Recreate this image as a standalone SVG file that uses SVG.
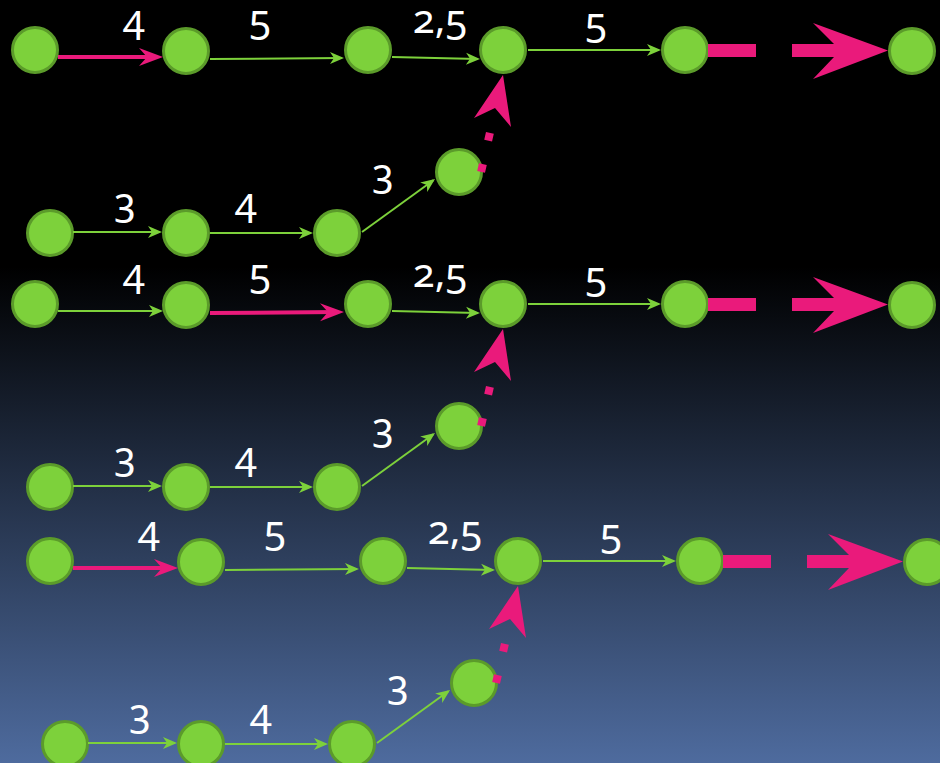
<svg xmlns="http://www.w3.org/2000/svg" width="940" height="763" viewBox="0 0 940 763">
<defs>
<linearGradient id="bg" x1="0" y1="0" x2="0" y2="763" gradientUnits="userSpaceOnUse">
<stop offset="0" stop-color="#000000"/>
<stop offset="0.35" stop-color="#000000"/>
<stop offset="1" stop-color="#4e6b9e"/>
</linearGradient>
<marker id="ag" markerUnits="userSpaceOnUse" markerWidth="14" markerHeight="12" refX="12" refY="6" orient="auto" overflow="visible">
<path d="M0,0 L14,6 L0,12 L4,6 z" fill="#7dd13b"/>
</marker>
<marker id="ap" markerUnits="userSpaceOnUse" markerWidth="24" markerHeight="18" refX="18" refY="9" orient="auto" overflow="visible">
<path d="M0,0 L24,9 L0,18 L8,9 z" fill="#ea1a7b"/>
</marker>
<style>
.n{fill:#7dd13b;stroke:#5b9b2a;stroke-width:3}
.g{stroke:#7dd13b;stroke-width:2;fill:none;marker-end:url(#ag)}
.p{stroke:#ea1a7b;stroke-width:4;fill:none;marker-end:url(#ap)}
.pf{fill:#ea1a7b}
.d{stroke:#ea1a7b;stroke-width:8;stroke-dasharray:8 24;fill:none}
.t{font-family:"Noto Sans","DejaVu Sans",sans-serif;font-size:40px;fill:#ffffff;text-anchor:middle;font-variant-numeric:oldstyle-nums;font-feature-settings:"onum"}
</style>
</defs>
<rect x="0" y="0" width="940" height="763" fill="url(#bg)"/>

<g id="nodes">
<g transform="translate(0,0)">
<g id="g1-a1"><circle class="n" cx="35" cy="50" r="22.5"/></g>
<g id="g1-a2"><circle class="n" cx="186" cy="51" r="22.5"/></g>
<g id="g1-a3"><circle class="n" cx="368" cy="50" r="22.5"/></g>
<g id="g1-a4"><circle class="n" cx="503" cy="50" r="22.5"/></g>
<g id="g1-a5"><circle class="n" cx="685" cy="50" r="22.5"/></g>
<g id="g1-a6"><circle class="n" cx="912" cy="51" r="22.5"/></g>
<g id="g1-b1"><circle class="n" cx="50" cy="233" r="22.5"/></g>
<g id="g1-b2"><circle class="n" cx="186" cy="233" r="22.5"/></g>
<g id="g1-b3"><circle class="n" cx="337" cy="233" r="22.5"/></g>
<g id="g1-b4"><circle class="n" cx="459" cy="172" r="22.5"/></g>
</g>
<g transform="translate(0,254)">
<g id="g2-a1"><circle class="n" cx="35" cy="50" r="22.5"/></g>
<g id="g2-a2"><circle class="n" cx="186" cy="51" r="22.5"/></g>
<g id="g2-a3"><circle class="n" cx="368" cy="50" r="22.5"/></g>
<g id="g2-a4"><circle class="n" cx="503" cy="50" r="22.5"/></g>
<g id="g2-a5"><circle class="n" cx="685" cy="50" r="22.5"/></g>
<g id="g2-a6"><circle class="n" cx="912" cy="51" r="22.5"/></g>
<g id="g2-b1"><circle class="n" cx="50" cy="233" r="22.5"/></g>
<g id="g2-b2"><circle class="n" cx="186" cy="233" r="22.5"/></g>
<g id="g2-b3"><circle class="n" cx="337" cy="233" r="22.5"/></g>
<g id="g2-b4"><circle class="n" cx="459" cy="172" r="22.5"/></g>
</g>
<g transform="translate(15,511)">
<g id="g3-a1"><circle class="n" cx="35" cy="50" r="22.5"/></g>
<g id="g3-a2"><circle class="n" cx="186" cy="51" r="22.5"/></g>
<g id="g3-a3"><circle class="n" cx="368" cy="50" r="22.5"/></g>
<g id="g3-a4"><circle class="n" cx="503" cy="50" r="22.5"/></g>
<g id="g3-a5"><circle class="n" cx="685" cy="50" r="22.5"/></g>
<g id="g3-a6"><circle class="n" cx="912" cy="51" r="22.5"/></g>
<g id="g3-b1"><circle class="n" cx="50" cy="233" r="22.5"/></g>
<g id="g3-b2"><circle class="n" cx="186" cy="233" r="22.5"/></g>
<g id="g3-b3"><circle class="n" cx="337" cy="233" r="22.5"/></g>
<g id="g3-b4"><circle class="n" cx="459" cy="172" r="22.5"/></g>
</g>
</g>

<g id="connectors">
<g transform="translate(0,0)">
<line class="p" x1="58" y1="57" x2="157" y2="57"/>
<line class="g" x1="210" y1="59" x2="342" y2="58"/>
<line class="g" x1="392" y1="57" x2="478" y2="59"/>
<line class="g" x1="528" y1="50" x2="659" y2="50"/>
<rect class="pf" x="708" y="44" width="48" height="13"/>
<polygon class="pf" points="792,44 834,44 813,23 888,50.5 813,79 834,57 792,57"/>
<line class="g" x1="73" y1="232" x2="160" y2="232"/>
<line class="g" x1="210" y1="233" x2="311" y2="233"/>
<line class="g" x1="362" y1="232" x2="433.4" y2="180.2"/>
<line class="d" x1="481.1" y1="171.9" x2="489.9" y2="132.9"/>
<polygon class="pf" points="503,75 474,118 495,108 511,127"/>
</g>
<g transform="translate(0,254)">
<line class="g" x1="58" y1="57" x2="161" y2="57"/>
<line class="p" x1="210" y1="59" x2="338" y2="58"/>
<line class="g" x1="392" y1="57" x2="478" y2="59"/>
<line class="g" x1="528" y1="50" x2="659" y2="50"/>
<rect class="pf" x="708" y="44" width="48" height="13"/>
<polygon class="pf" points="792,44 834,44 813,23 888,50.5 813,79 834,57 792,57"/>
<line class="g" x1="73" y1="232" x2="160" y2="232"/>
<line class="g" x1="210" y1="233" x2="311" y2="233"/>
<line class="g" x1="362" y1="232" x2="433.4" y2="180.2"/>
<line class="d" x1="481.1" y1="171.9" x2="489.9" y2="132.9"/>
<polygon class="pf" points="503,75 474,118 495,108 511,127"/>
</g>
<g transform="translate(15,511)">
<line class="p" x1="58" y1="57" x2="157" y2="57"/>
<line class="g" x1="210" y1="59" x2="342" y2="58"/>
<line class="g" x1="392" y1="57" x2="478" y2="59"/>
<line class="g" x1="528" y1="50" x2="659" y2="50"/>
<rect class="pf" x="708" y="44" width="48" height="13"/>
<polygon class="pf" points="792,44 834,44 813,23 888,50.5 813,79 834,57 792,57"/>
<line class="g" x1="73" y1="232" x2="160" y2="232"/>
<line class="g" x1="210" y1="233" x2="311" y2="233"/>
<line class="g" x1="362" y1="232" x2="433.4" y2="180.2"/>
<line class="d" x1="481.1" y1="171.9" x2="489.9" y2="132.9"/>
<polygon class="pf" points="503,75 474,118 495,108 511,127"/>
</g>
</g>

<g id="labels">
<g transform="translate(0,0)">
<text class="t" x="134" y="33">4</text>
<text class="t" x="260" y="33">5</text>
<text class="t" x="440" y="33">2,5</text>
<text class="t" x="596" y="36">5</text>
<text class="t" x="125" y="216">3</text>
<text class="t" x="246" y="216">4</text>
<text class="t" x="383" y="187">3</text>
</g>
<g transform="translate(0,254)">
<text class="t" x="134" y="33">4</text>
<text class="t" x="260" y="33">5</text>
<text class="t" x="440" y="33">2,5</text>
<text class="t" x="596" y="36">5</text>
<text class="t" x="125" y="216">3</text>
<text class="t" x="246" y="216">4</text>
<text class="t" x="383" y="187">3</text>
</g>
<g transform="translate(15,511)">
<text class="t" x="134" y="33">4</text>
<text class="t" x="260" y="33">5</text>
<text class="t" x="440" y="33">2,5</text>
<text class="t" x="596" y="36">5</text>
<text class="t" x="125" y="216">3</text>
<text class="t" x="246" y="216">4</text>
<text class="t" x="383" y="187">3</text>
</g>
</g>
</svg>
